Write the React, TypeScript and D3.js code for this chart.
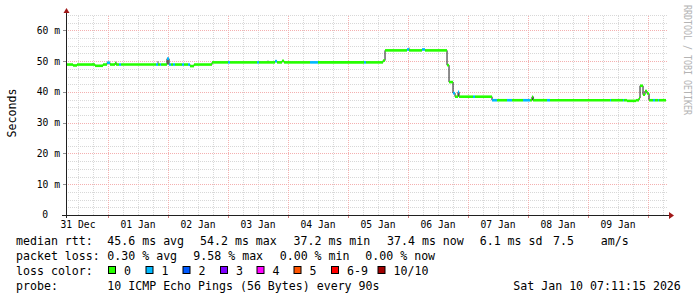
import React from "react";
import * as d3 from "d3";

// ---- data ----
const startTime = "2025-12-31 07:11:15";
const endTime = "2026-01-10 07:11:15";

// median rtt (ms) per step, each holding until the next time
const times = [
  "2025-12-31 07:11", "2025-12-31 10:00", "2025-12-31 11:36", "2025-12-31 18:48", "2025-12-31 22:00",
  "2025-12-31 23:36", "2026-01-01 00:48", "2026-01-01 02:48", "2026-01-01 03:12", "2026-01-01 04:24",
  "2026-01-01 05:12", "2026-01-01 19:12", "2026-01-01 20:00", "2026-01-01 20:48", "2026-01-01 21:12",
  "2026-01-01 23:36", "2026-01-02 00:24", "2026-01-02 01:12", "2026-01-02 02:00", "2026-01-02 02:48",
  "2026-01-02 05:36", "2026-01-02 06:24", "2026-01-02 08:00", "2026-01-02 08:48", "2026-01-02 10:24",
  "2026-01-02 17:36", "2026-01-03 00:00", "2026-01-03 00:48", "2026-01-03 11:36", "2026-01-03 12:24",
  "2026-01-03 18:48", "2026-01-03 19:36", "2026-01-03 21:36", "2026-01-03 22:24", "2026-01-04 08:48",
  "2026-01-04 12:00", "2026-01-05 06:24", "2026-01-05 07:12", "2026-01-05 14:00", "2026-01-05 14:48",
  "2026-01-05 23:36", "2026-01-06 00:24", "2026-01-06 05:36", "2026-01-06 06:48", "2026-01-06 15:36",
  "2026-01-06 16:24", "2026-01-06 18:00", "2026-01-06 18:48", "2026-01-06 20:00", "2026-01-06 20:24",
  "2026-01-07 02:00", "2026-01-07 02:48", "2026-01-07 09:36", "2026-01-07 11:36", "2026-01-07 15:36",
  "2026-01-07 17:36", "2026-01-07 22:00", "2026-01-08 00:48", "2026-01-08 01:36", "2026-01-08 02:00",
  "2026-01-08 07:36", "2026-01-08 08:48", "2026-01-09 08:48", "2026-01-09 09:12", "2026-01-09 14:00",
  "2026-01-09 14:24", "2026-01-09 15:36", "2026-01-09 19:12", "2026-01-09 20:24", "2026-01-09 20:48",
  "2026-01-09 22:00", "2026-01-09 22:48", "2026-01-09 23:36", "2026-01-10 00:24", "2026-01-10 02:00",
  "2026-01-10 02:48", "2026-01-10 04:00", "2026-01-10 04:24",
];
const median = [
  48.9, 48.6, 48.9, 48.5, 48.9,
  49.5, 48.9, 49.4, 48.9, 48.9,
  48.9, 48.9, 48.9, 48.9, 48.9,
  50.8, 48.9, 48.9, 48.9, 48.9,
  48.9, 48.9, 48.9, 48.4, 48.9,
  49.6, 49.6, 49.6, 49.6, 49.6,
  50.0, 49.6, 50.1, 49.6, 49.6,
  49.6, 49.6, 49.6, 50.2, 53.5,
  53.8, 53.5, 53.8, 53.5, 48.7,
  43.2, 39.6, 38.45, 40.0, 38.45,
  38.45, 38.45, 37.3, 37.3, 37.3,
  37.3, 37.3, 37.3, 38.4, 37.3,
  37.3, 37.3, 37.3, 37.3, 37.3,
  37.3, 37.1, 37.3, 38.0, 42.0,
  39.1, 40.3, 39.5, 37.3, 37.3,
  37.3, 37.3, 37.3,
];
const loss = [
  0, 0, 0, 0, 0,
  1, 0, 0, 0, 1,
  0, 1, 0, 1, 0,
  1, 1, 0, 1, 0,
  1, 0, 1, 0, 0,
  0, 1, 0, 1, 0,
  1, 0, 0, 0, 1,
  0, 1, 0, 0, 0,
  1, 0, 1, 0, 0,
  0, 1, 0, 1, 0,
  1, 0, 1, 0, 1,
  0, 1, 0, 0, 0,
  1, 0, 1, 0, 1,
  0, 0, 0, 0, 0,
  0, 0, 0, 0, 1,
  0, 1, 0,
];

// smoke (spread of pings) where visible
const smokeTimes = ["2025-12-31 17:36", "2026-01-01 02:48", "2026-01-01 19:36", "2026-01-01 23:36", "2026-01-03 15:36", "2026-01-06 00:00", "2026-01-08 01:36"];
const smokeLo = [48.9, 48.9, 48.9, 48.9, 49.6, 53.5, 37.3];
const smokeHi = [49.4, 49.8, 50.0, 51.2, 50.2, 54.4, 38.6];

const lossLabels = ["0", "1", "2", "3", "4", "5", "6-9", "10/10"];
const lossColors = ["#26ff00", "#00b8ff", "#0059ff", "#7e00ff", "#ff00ff", "#ff5500", "#ff0000", "#a10000"];

const yTicks = [0, 10, 20, 30, 40, 50, 60];

const statRtt = ["median rtt:", "45.6 ms avg", "54.2 ms max", "37.2 ms min", "37.4 ms now", "6.1 ms sd", "7.5", "am/s"];
const statLoss = ["packet loss:", "0.30 % avg", "9.58 % max", "0.00 % min", "0.00 % now"];
const probeText = ["probe:", "10 ICMP Echo Pings (56 Bytes) every 90s", "Sat Jan 10 07:11:15 2026"];

// ---- layout ----
const W = 697, H = 297;
const X0 = 66, X1 = 666, Y0 = 215, Y1 = 15;
const MONO = "'DejaVu Sans Mono', monospace";

export default function App() {
  const parseS = d3.timeParse("%Y-%m-%d %H:%M:%S");
  const parse = d3.timeParse("%Y-%m-%d %H:%M");
  const t0 = parseS(startTime) as Date;
  const t1 = parseS(endTime) as Date;
  const x = d3.scaleTime().domain([t0, t1]).range([X0, X1]);
  const y = d3.scaleLinear().domain([0, 65]).range([Y0, Y1]);

  const pts = times.map((t, i) => ({ t: parse(t) as Date, v: median[i], l: loss[i] }));
  const stepPts = [...pts, { t: t1, v: median[median.length - 1], l: 0 }];
  const stepLine = d3.line<{ t: Date; v: number }>()
    .x((d) => x(d.t))
    .y((d) => y(d.v))
    .curve(d3.curveStepAfter);

  const minorX = d3.timeHour.every(6)!.range(t0, t1).filter((d) => d.getHours() !== 0);
  const majorX = d3.timeDay.range(t0, t1);
  const labelX = d3.timeDay.range(d3.timeDay.floor(t0), t1).map((d) => d3.timeHour.offset(d, 12));
  const minorY = d3.range(0, 65.01, 2.5).filter((v) => v % 10 !== 0);
  const fmtDay = d3.timeFormat("%d %b");

  const gridMinor = "#d8d8d8";
  const gridMajor = "#f4b0b0";
  const gx0 = X0, gx1 = 668;

  const lossX = [108, 145.5, 182.5, 220, 256.5, 293.5, 331, 377.5];
  const rttX = [16, 107.3, 200, 293.5, 387, 479.7, 553, 600.7];
  const lossStatX = [16, 107.3, 193.3, 279.7, 365.3];

  return (
    <svg width={W} height={H} style={{ position: "absolute", left: 0, top: 0, background: "#fff" }}>
      <rect x={0} y={0} width={W} height={H} fill="#ffffff" />
      {/* minor grid */}
      {minorY.map((v) => (
        <line key={"my" + v} x1={gx0} x2={gx1} y1={Math.round(y(v)) + 0.5} y2={Math.round(y(v)) + 0.5}
          stroke={gridMinor} strokeDasharray="1,1" />
      ))}
      {minorX.map((d) => (
        <line key={"mx" + d.getTime()} x1={Math.round(x(d)) + 0.5} x2={Math.round(x(d)) + 0.5} y1={Y0} y2={Y1}
          stroke={gridMinor} strokeDasharray="1,1" />
      ))}
      {/* major grid */}
      {yTicks.filter((v) => v > 0).map((v) => (
        <line key={"My" + v} x1={gx0} x2={gx1} y1={Math.round(y(v)) + 0.5} y2={Math.round(y(v)) + 0.5}
          stroke={gridMajor} strokeDasharray="1,1" />
      ))}
      {majorX.map((d) => (
        <line key={"Mx" + d.getTime()} x1={Math.round(x(d)) + 0.5} x2={Math.round(x(d)) + 0.5} y1={Y0} y2={Y1}
          stroke={gridMajor} strokeDasharray="1,1" />
      ))}
      {/* tick marks */}
      {majorX.map((d) => (
        <line key={"tx" + d.getTime()} x1={Math.round(x(d)) + 0.5} x2={Math.round(x(d)) + 0.5} y1={Y0} y2={Y0 + 3}
          stroke="#d08080" />
      ))}
      {yTicks.map((v) => (
        <line key={"ty" + v} x1={X0 - 3} x2={X0} y1={Math.round(y(v)) + 0.5} y2={Math.round(y(v)) + 0.5}
          stroke="#909090" />
      ))}

      {/* smoke */}
      {smokeTimes.map((t, i) => {
        const xx = x(parse(t) as Date);
        return <rect key={"s" + i} x={xx} y={y(smokeHi[i])} width={2} height={y(smokeLo[i]) - y(smokeHi[i])} fill="#a8a8a8" />;
      })}

      {/* median base line (black) */}
      <path d={stepLine(stepPts) || ""} fill="none" stroke="#1a1a1a" strokeWidth={1} />
      {/* loss-coloured median */}
      {pts.map((p, i) => {
        const tn = i + 1 < pts.length ? pts[i + 1].t : t1;
        return (
          <line key={"m" + i} x1={x(p.t)} x2={x(tn)} y1={y(p.v)} y2={y(p.v)}
            stroke={lossColors[p.l]} strokeWidth={2.6} />
        );
      })}

      {/* axes */}
      <line x1={62} x2={669} y1={Y0 + 0.5} y2={Y0 + 0.5} stroke="#202020" />
      <line x1={X0 + 0.5} x2={X0 + 0.5} y1={Y0 + 3} y2={13} stroke="#202020" />
      <polygon points={`${X0 - 2.5},13 ${X0 + 3.5},13 ${X0 + 0.5},8`} fill="#a01818" />
      <polygon points={`669,212 669,219 674,215.5`} fill="#a01818" />

      {/* y tick labels */}
      {yTicks.map((v) => (
        <text key={"yl" + v} x={v === 0 ? 48 : 60} y={y(v)} dy="0.35em" textAnchor="end"
          fontFamily={MONO} fontSize={9.7} fill="#000">
          {v === 0 ? "0" : `${v} m`}
        </text>
      ))}
      {/* x tick labels */}
      {labelX.filter((d) => x(d) > 40 && x(d) < X1).map((d) => (
        <text key={"xl" + d.getTime()} x={x(d)} y={227.7} textAnchor="middle" fontFamily={MONO} fontSize={9.7} fill="#000">
          {fmtDay(d)}
        </text>
      ))}

      {/* y axis title */}
      <text transform="translate(15.5,113) rotate(-90)" textAnchor="middle" fontFamily={MONO} fontSize={11.6} fill="#000">
        Seconds
      </text>
      {/* watermark */}
      <text transform="translate(683.5,5) rotate(90)" fontFamily={MONO} fontSize={10.5} fill="#b4b4b4"
        textLength={110} lengthAdjust="spacingAndGlyphs">
        RRDTOOL / TOBI OETIKER
      </text>

      {/* legend */}
      {statRtt.map((s, i) => (
        <text key={"r" + i} x={rttX[i]} y={244.5} fontFamily={MONO} fontSize={11.6} fill="#000">{s}</text>
      ))}
      {statLoss.map((s, i) => (
        <text key={"l" + i} x={lossStatX[i]} y={259.5} fontFamily={MONO} fontSize={11.6} fill="#000">{s}</text>
      ))}
      <text x={16} y={274.5} fontFamily={MONO} fontSize={11.6} fill="#000">loss color:</text>
      {lossLabels.map((s, i) => (
        <g key={"lc" + i}>
          <rect x={lossX[i] + 0.5} y={266.5} width={7} height={7} fill={lossColors[i]} stroke="#000" strokeWidth={1} />
          <text x={lossX[i] + 16} y={274.5} fontFamily={MONO} fontSize={11.6} fill="#000">{s}</text>
        </g>
      ))}
      <text x={16} y={289.5} fontFamily={MONO} fontSize={11.6} fill="#000">{probeText[0]}</text>
      <text x={107.3} y={289.5} fontFamily={MONO} fontSize={11.6} fill="#000">{probeText[1]}</text>
      <text x={513.3} y={289.5} fontFamily={MONO} fontSize={11.6} fill="#000">{probeText[2]}</text>
    </svg>
  );
}
